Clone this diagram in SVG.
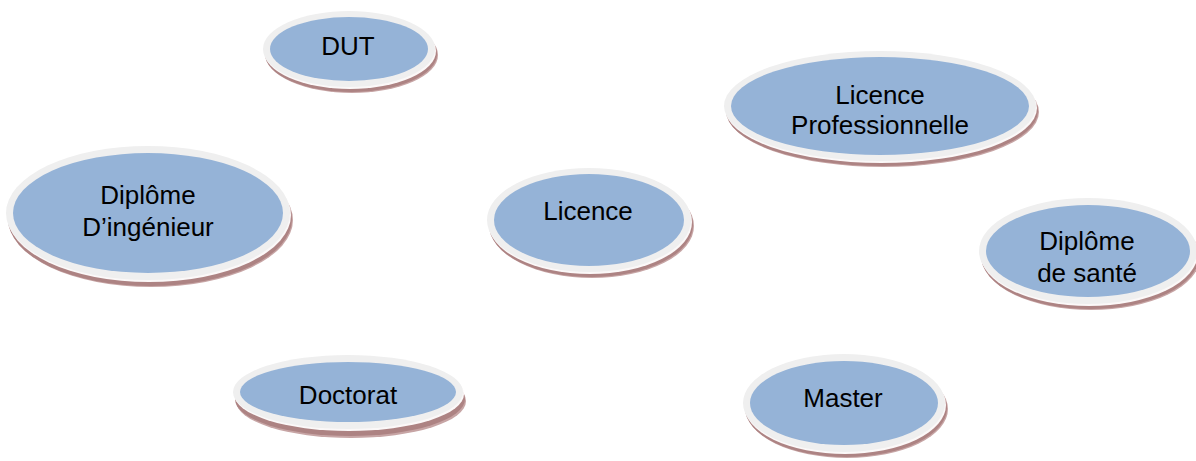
<svg xmlns="http://www.w3.org/2000/svg" width="1196" height="461" viewBox="0 0 1196 461">
<style>
.sh{fill:#ad8383}
.sh2{fill:#c7a5a5}
.gap{fill:#fbf8f8}
.ring{fill:#efefef}
.in{fill:#95b3d7}
text{font-family:"Liberation Sans",Arial,sans-serif;font-size:26px;fill:#000;text-anchor:middle}
</style>
<rect width="1196" height="461" fill="#ffffff"/>
<g id="connectors"/>
<g id="dut">
<ellipse class="sh2" cx="352" cy="55" rx="86" ry="38"/>
<ellipse class="sh" cx="351" cy="54" rx="86" ry="38"/>
<ellipse class="gap" cx="350" cy="51" rx="86" ry="38"/>
<ellipse class="ring" cx="349" cy="49" rx="86" ry="38"/>
<ellipse class="in" cx="349" cy="49" rx="79" ry="32"/>
<text x="348" y="55">DUT</text>
</g>
<g id="licence-pro">
<ellipse class="sh2" cx="883" cy="112" rx="156" ry="55"/>
<ellipse class="sh" cx="882" cy="111" rx="156" ry="55"/>
<ellipse class="gap" cx="881" cy="108" rx="156" ry="55"/>
<ellipse class="ring" cx="880" cy="106" rx="156" ry="55"/>
<ellipse class="in" cx="880" cy="106" rx="149" ry="49"/>
<text x="880" y="104">Licence</text>
<text x="880" y="134">Professionnelle</text>
</g>
<g id="diplome-ingenieur">
<ellipse class="sh2" cx="151" cy="220" rx="142" ry="67"/>
<ellipse class="sh" cx="150" cy="219" rx="142" ry="67"/>
<ellipse class="gap" cx="149" cy="215" rx="142" ry="67"/>
<ellipse class="ring" cx="148" cy="213" rx="142" ry="67"/>
<ellipse class="in" cx="148" cy="213" rx="135" ry="60"/>
<text x="148" y="204">Diplôme</text>
<text x="148" y="236">D’ingénieur</text>
</g>
<g id="licence">
<ellipse class="sh2" cx="592" cy="226" rx="102" ry="52"/>
<ellipse class="sh" cx="591" cy="225" rx="102" ry="52"/>
<ellipse class="gap" cx="590" cy="222" rx="102" ry="52"/>
<ellipse class="ring" cx="589" cy="220" rx="102" ry="52"/>
<ellipse class="in" cx="589" cy="220" rx="95" ry="46"/>
<text x="588" y="220">Licence</text>
</g>
<g id="diplome-sante">
<ellipse class="sh2" cx="1091" cy="257" rx="109" ry="53"/>
<ellipse class="sh" cx="1090" cy="256" rx="109" ry="53"/>
<ellipse class="gap" cx="1089" cy="253" rx="109" ry="53"/>
<ellipse class="ring" cx="1088" cy="251" rx="109" ry="53"/>
<ellipse class="in" cx="1088" cy="251" rx="102" ry="46"/>
<text x="1087" y="250">Diplôme</text>
<text x="1087" y="282">de santé</text>
</g>
<g id="doctorat">
<ellipse class="sh2" cx="351" cy="401" rx="115" ry="37"/>
<ellipse class="sh" cx="350" cy="399" rx="115" ry="37"/>
<ellipse class="gap" cx="349" cy="394" rx="115" ry="37"/>
<ellipse class="ring" cx="348" cy="392" rx="115" ry="37"/>
<ellipse class="in" cx="348" cy="392" rx="108" ry="30"/>
<text x="348" y="404">Doctorat</text>
</g>
<g id="master">
<ellipse class="sh2" cx="847" cy="409" rx="101" ry="49"/>
<ellipse class="sh" cx="846" cy="408" rx="101" ry="49"/>
<ellipse class="gap" cx="845" cy="405" rx="101" ry="49"/>
<ellipse class="ring" cx="844" cy="403" rx="101" ry="49"/>
<ellipse class="in" cx="844" cy="403" rx="94" ry="42"/>
<text x="843" y="407">Master</text>
</g>
</svg>
